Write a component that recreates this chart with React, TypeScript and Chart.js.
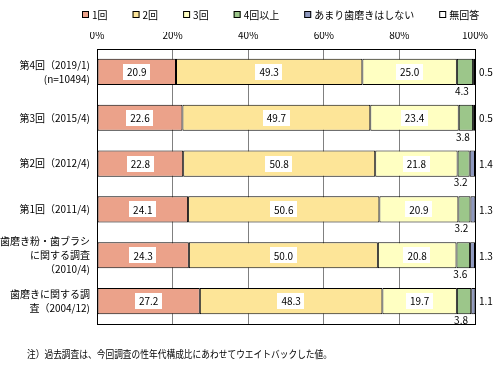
import React, { useEffect, useRef } from "react";
import { Chart, registerables } from "chart.js";

Chart.register(...registerables);

const categories: (string | string[])[] = [
  ["第4回（2019/1)", "(n=10494)"],
  "第3回（2015/4)",
  "第2回（2012/4)",
  "第1回（2011/4)",
  ["歯磨き粉・歯ブラシ", "に関する調査", "（2010/4)"],
  ["歯磨きに関する調", "査（2004/12)"],
];
const seriesNames = ["1回", "2回", "3回", "4回以上", "あまり歯磨きはしない", "無回答"];
const once = [20.9, 22.6, 22.8, 24.1, 24.3, 27.2];
const twice = [49.3, 49.7, 50.8, 50.6, 50.0, 48.3];
const thrice = [25.0, 23.4, 21.8, 20.9, 20.8, 19.7];
const fourPlus = [4.3, 3.8, 3.2, 3.2, 3.6, 3.8];
const rarely = [0.5, 0.5, 1.4, 1.3, 1.3, 1.1];
const noAnswer = [0, 0, 0, 0, 0, 0];
const xTicks = [0, 20, 40, 60, 80, 100];
const footnote = "注）過去調査は、今回調査の性年代構成比にあわせてウエイトバックした値。";

const colors = ["#EBA28A", "#FDE598", "#FFFFC2", "#9CC68A", "#8E98BE", "#FFFFFF"];
const FONT = '"Noto Sans CJK JP", "Noto Sans", sans-serif';

const labelPlugin = {
  id: "labelPlugin",
  beforeDatasetsDraw(chart: any) {
    const { ctx, chartArea } = chart;
    ctx.save();
    ctx.strokeStyle = "#000";
    ctx.lineWidth = 1;
    ctx.strokeRect(
      Math.round(chartArea.left) + 0.5,
      Math.round(chartArea.top) + 0.5,
      Math.round(chartArea.right - chartArea.left),
      Math.round(chartArea.bottom - chartArea.top)
    );
    ctx.restore();
  },
  afterDatasetsDraw(chart: any) {
    const { ctx, chartArea } = chart;
    ctx.save();
    ctx.font = `10px ${FONT}`;
    ctx.textBaseline = "middle";
    chart.data.datasets.forEach((ds: any, di: number) => {
      const meta = chart.getDatasetMeta(di);
      meta.data.forEach((el: any, i: number) => {
        const v = ds.data[i];
        const txt = v.toFixed(1);
        const cx = (el.x + el.base) / 2;
        if (di <= 2) {
          const tw = ctx.measureText(txt).width;
          const w = tw + 8;
          const h = 16;
          ctx.fillStyle = "#fff";
          ctx.fillRect(Math.round(cx - w / 2), Math.round(el.y - h / 2), Math.round(w), h);
          ctx.fillStyle = "#000";
          ctx.textAlign = "center";
          ctx.fillText(txt, cx, el.y + 0.5);
        } else if (di === 3) {
          ctx.fillStyle = "#000";
          ctx.textAlign = "center";
          ctx.fillText(txt, cx - 3, el.y + el.height / 2 + 6);
        } else if (di === 4) {
          ctx.fillStyle = "#000";
          ctx.textAlign = "left";
          ctx.fillText(txt, chartArea.right + 4, el.y + 0.5);
        }
      });
    });
    // footnote
    ctx.textAlign = "left";
    ctx.fillStyle = "#000";
    ctx.fillText(footnote, 27, chartArea.bottom + 30, 305);

    // legend
    let x = 82;
    const y = 15;
    chart.data.datasets.forEach((ds: any) => {
      ctx.fillStyle = ds.backgroundColor;
      ctx.fillRect(x, y - 4, 7, 7);
      ctx.strokeStyle = "#000";
      ctx.lineWidth = 1;
      ctx.strokeRect(x + 0.5, y - 3.5, 6, 6);
      ctx.fillStyle = "#000";
      ctx.textAlign = "left";
      ctx.fillText(ds.label, x + 10, y);
      x += 10 + ctx.measureText(ds.label).width + 25;
    });
    ctx.restore();
  },
};

export default function App() {
  const ref = useRef<HTMLCanvasElement>(null);
  useEffect(() => {
    document.body.style.margin = "0";
    const series = [once, twice, thrice, fourPlus, rarely, noAnswer];
    const chart = new Chart(ref.current!, {
      type: "bar",
      data: {
        labels: categories,
        datasets: series.map((d, i) => ({
          label: seriesNames[i],
          data: d,
          backgroundColor: colors[i],
          borderColor: "#000",
          borderWidth: 1,
          borderSkipped: false,
          barPercentage: 0.57,
          categoryPercentage: 1,
        })),
      },
      options: {
        indexAxis: "y",
        animation: false,
        responsive: true,
        maintainAspectRatio: false,
        layout: { padding: { left: 0, right: 27, top: 32, bottom: 42 } },
        plugins: {
          tooltip: { enabled: false },
          legend: { display: false },
        },
        scales: {
          x: {
            position: "top",
            stacked: true,
            min: 0,
            max: 100,
            afterBuildTicks: (s: any) => {
              s.ticks = xTicks.map((v) => ({ value: v }));
            },
            afterFit: (s: any) => {
              s.height = 17;
            },
            grid: {
              drawTicks: false,
              color: (c: any) =>
                c.tick && (c.tick.value === 0 || c.tick.value === 100) ? "#000" : "#808080",
            },
            border: { display: true, color: "#000" },
            ticks: {
              padding: 8,
              color: "#000",
              font: { size: 10, family: FONT },
              callback: (v: any) => v + "%",
            },
          },
          y: {
            stacked: true,
            afterFit: (s: any) => {
              s.width = 97;
            },
            grid: { display: false, drawTicks: false },
            border: { display: true, color: "#000" },
            ticks: {
              autoSkip: false,
              padding: 7,
              color: "#000",
              font: { size: 10, family: FONT, lineHeight: 1.4 },
            },
          },
        },
      },
      plugins: [labelPlugin],
    });
    return () => chart.destroy();
  }, []);
  return (
    <div style={{ width: 502, height: 366, position: "relative", background: "#fff" }}>
      <canvas ref={ref} />
    </div>
  );
}
